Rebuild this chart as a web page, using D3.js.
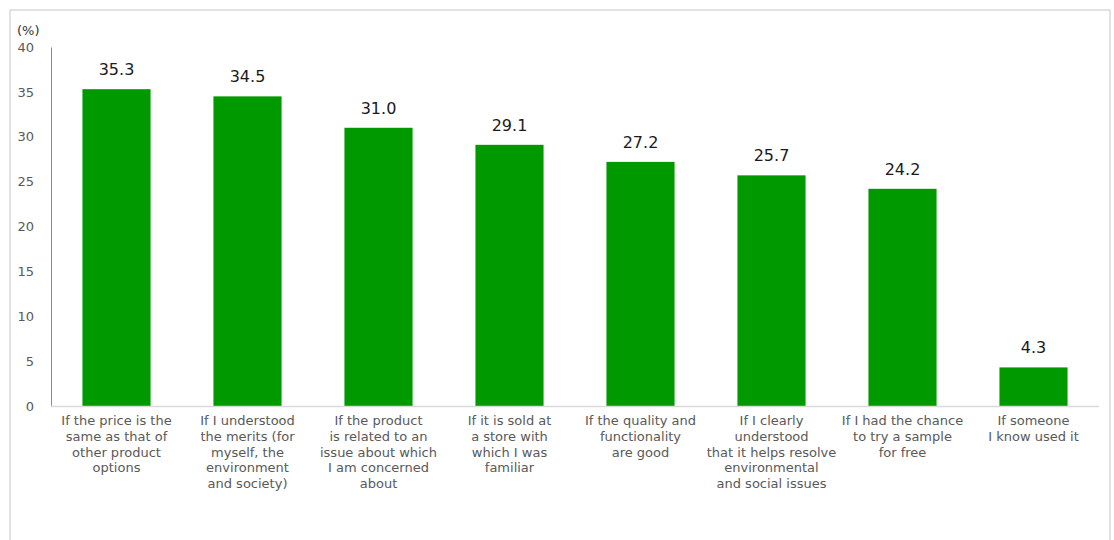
<!DOCTYPE html>
<html>
<head>
<meta charset="utf-8">
<script src="https://cdn.jsdelivr.net/npm/d3@7"></script>
<style>
  html, body { margin: 0; padding: 0; background: #fff; }
  svg { display: block; font-family: "DejaVu Sans", Verdana, sans-serif; }
</style>
</head>
<body>
<svg id="chart" width="1114" height="540"></svg>
<script>
const categories = [
  ["If the price is the", "same as that of", "other product", "options"],
  ["If I understood", "the merits (for", "myself, the", "environment", "and society)"],
  ["If the product", "is related to an", "issue about which", "I am concerned", "about"],
  ["If it is sold at", "a store with", "which I was", "familiar"],
  ["If the quality and", "functionality", "are good"],
  ["If I clearly", "understood", "that it helps resolve", "environmental", "and social issues"],
  ["If I had the chance", "to try a sample", "for free"],
  ["If someone", "I know used it"]
];
const values = [35.3, 34.5, 31.0, 29.1, 27.2, 25.7, 24.2, 4.3];
const yTicks = [0, 5, 10, 15, 20, 25, 30, 35, 40];
const unitLabel = "(%)";

const svg = d3.select("#chart");

// outer frame
svg.append("rect")
  .attr("x", 10).attr("y", 10).attr("width", 1100).attr("height", 540)
  .attr("fill", "none").attr("stroke", "#d9d9d9").attr("stroke-width", 1.5);

const plotLeft = 51, plotRight = 1099, plotTop = 47, plotBottom = 406;

const x = d3.scaleBand()
  .domain(d3.range(categories.length))
  .range([plotLeft, plotRight])
  .paddingInner(0.48).paddingOuter(0.24);

const y = d3.scaleLinear().domain([0, 40]).range([plotBottom, plotTop]);

// y axis
const yAxis = d3.axisLeft(y).tickValues(yTicks).tickSize(0).tickPadding(17);
const gy = svg.append("g").attr("transform", `translate(${plotLeft},0)`).call(yAxis);
gy.select(".domain").attr("stroke", "#8c8c8c").attr("stroke-width", 1);
gy.selectAll("text").attr("fill", "#595959").style("font-size", "13px")
  .style("font-family", '"DejaVu Sans", Verdana, sans-serif');

svg.append("text")
  .attr("x", 17).attr("y", 35)
  .attr("fill", "#333").style("font-size", "13px")
  .text(unitLabel);

// bars
svg.append("g").selectAll("rect")
  .data(values)
  .join("rect")
  .attr("x", (d, i) => x(i))
  .attr("width", x.bandwidth())
  .attr("y", d => y(d))
  .attr("height", d => y(0) - y(d))
  .attr("fill", "#009900");

// x baseline
svg.append("line")
  .attr("x1", plotLeft).attr("x2", plotRight)
  .attr("y1", y(0) + 0.5).attr("y2", y(0) + 0.5)
  .attr("stroke", "#d9d9d9").attr("stroke-width", 1.5);

// value labels
svg.append("g").selectAll("text")
  .data(values)
  .join("text")
  .attr("x", (d, i) => x(i) + x.bandwidth() / 2)
  .attr("y", d => y(d) - 14)
  .attr("text-anchor", "middle")
  .attr("fill", "#1a1a1a")
  .style("font-size", "16px")
  .text(d => d.toFixed(1));

// category labels
const cl = svg.append("g").selectAll("text")
  .data(categories)
  .join("text")
  .attr("text-anchor", "middle")
  .attr("fill", "#595959")
  .style("font-size", "13px");
cl.each(function(lines, i) {
  const t = d3.select(this);
  lines.forEach((ln, j) => {
    t.append("tspan")
      .attr("x", x(i) + x.bandwidth() / 2)
      .attr("y", 425 + j * 15.8)
      .text(ln);
  });
});
</script>
</body>
</html>
